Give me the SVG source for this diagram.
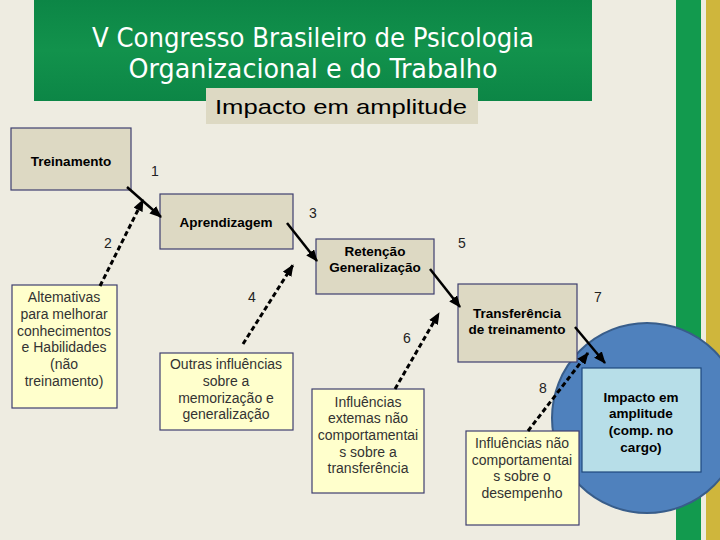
<svg xmlns="http://www.w3.org/2000/svg" width="720" height="540" viewBox="0 0 720 540">
<defs>
<marker id="ah" markerUnits="userSpaceOnUse" markerWidth="12" markerHeight="10" refX="11" refY="5" orient="auto">
<path d="M0,0 L12,5 L0,10 z" fill="#000"/>
</marker>
<linearGradient id="hg" x1="0" y1="0" x2="0" y2="1">
<stop offset="0" stop-color="#0C8646"/>
<stop offset="0.5" stop-color="#12924C"/>
<stop offset="1" stop-color="#0C8646"/>
</linearGradient>
</defs>
<style>
.box{fill:#DDD9C3;stroke:#3F3F6F;stroke-width:1.2}
.note{fill:#FFFFCC;stroke:#3F3F6F;stroke-width:1.2}
.b{font-family:"Liberation Sans",Arial,sans-serif;font-size:13.5px;font-weight:bold;fill:#000;text-anchor:middle}
.r{font-family:"Liberation Sans",Arial,sans-serif;font-size:14px;fill:#333;text-anchor:middle}
.n{font-family:"Liberation Sans",Arial,sans-serif;font-size:14px;fill:#222;text-anchor:middle}
.sol{stroke:#000;stroke-width:2.5;fill:none;marker-end:url(#ah)}
.dsh{stroke:#000;stroke-width:3;fill:none;stroke-dasharray:5 3;marker-end:url(#ah)}
.title{font-family:"Liberation Sans Narrow","DejaVu Sans Condensed","Liberation Sans",sans-serif;font-size:26px;fill:#FFF;text-anchor:middle}
</style>
<rect width="720" height="540" fill="#EEECE1"/>
<rect x="676" y="0" width="25" height="540" fill="#129A4E"/>
<rect x="706" y="0" width="14" height="540" fill="#CFB63C"/>
<g id="header">
<rect x="34" y="0" width="558" height="101" fill="url(#hg)"/>
<text class="title" x="313" y="47" textLength="442" lengthAdjust="spacingAndGlyphs">V Congresso Brasileiro de Psicologia</text>
<text class="title" x="313" y="78" textLength="369" lengthAdjust="spacingAndGlyphs">Organizacional  e do Trabalho</text>
</g>
<g id="subtitle">
<rect x="206" y="88" width="272" height="36" fill="#DDD9C3"/>
<text x="341" y="114" font-family="Liberation Sans, Arial, sans-serif" font-size="21" fill="#000" text-anchor="middle" textLength="252" lengthAdjust="spacingAndGlyphs">Impacto em amplitude</text>
</g>
<g id="impacto">
<circle cx="647" cy="418" r="95" fill="#4F81BD" stroke="#385D8A" stroke-width="2"/>
<rect x="582" y="368" width="119" height="104" fill="#B7DEE8" stroke="#1F497D" stroke-width="1.2"/>
<text class="b" x="641" y="402">Impacto em</text>
<text class="b" x="641" y="418">amplitude</text>
<text class="b" x="641" y="435">(comp. no</text>
<text class="b" x="641" y="452">cargo)</text>
</g>
<g id="treinamento">
<rect class="box" x="11" y="128" width="120" height="62"/>
<text class="b" x="71" y="166">Treinamento</text>
</g>
<g id="aprendizagem">
<rect class="box" x="160" y="194" width="133" height="55"/>
<text class="b" x="226" y="227">Aprendizagem</text>
</g>
<g id="retencao">
<rect class="box" x="316" y="239" width="118" height="55"/>
<text class="b" x="375" y="256">Retenção</text>
<text class="b" x="375" y="272">Generalização</text>
</g>
<g id="transferencia">
<rect class="box" x="458" y="284" width="119" height="78"/>
<text class="b" x="517" y="318">Transferência</text>
<text class="b" x="517" y="334">de treinamento</text>
</g>
<g id="alternativas">
<rect class="note" x="12" y="285" width="105" height="123"/>
<text class="r" x="64" y="302">Altemativas</text>
<text class="r" x="64" y="319">para melhorar</text>
<text class="r" x="64" y="336">conhecimentos</text>
<text class="r" x="64" y="352">e Habilidades</text>
<text class="r" x="64" y="369">(não</text>
<text class="r" x="64" y="386">treinamento)</text>
</g>
<g id="outras">
<rect class="note" x="160" y="353" width="133" height="77"/>
<text class="r" x="226" y="369">Outras influências</text>
<text class="r" x="226" y="386">sobre a</text>
<text class="r" x="226" y="403">memorização e</text>
<text class="r" x="226" y="419">generalização</text>
</g>
<g id="externas">
<rect class="note" x="312" y="389" width="112" height="104"/>
<text class="r" x="368" y="407">Influências</text>
<text class="r" x="368" y="423">extemas não</text>
<text class="r" x="368" y="440">comportamentai</text>
<text class="r" x="368" y="457">s sobre a</text>
<text class="r" x="368" y="473">transferência</text>
</g>
<g id="desempenho">
<rect class="note" x="466" y="431" width="113" height="94"/>
<text class="r" x="522" y="448">Influências não</text>
<text class="r" x="522" y="465">comportamentai</text>
<text class="r" x="522" y="481">s sobre o</text>
<text class="r" x="522" y="498">desempenho</text>
</g>
<g id="connectors">
<line class="sol" x1="127" y1="187" x2="161" y2="217"/>
<line class="dsh" x1="100" y1="286" x2="143" y2="200"/>
<line class="sol" x1="287" y1="223" x2="317" y2="261"/>
<line class="dsh" x1="243" y1="344" x2="293" y2="265"/>
<line class="sol" x1="430" y1="269" x2="460" y2="307"/>
<line class="dsh" x1="395" y1="389" x2="439" y2="313"/>
<line class="sol" x1="575" y1="327" x2="605" y2="363"/>
<line class="dsh" x1="528" y1="431" x2="588" y2="353"/>
</g>
<g id="labels">
<text class="n" x="155" y="176">1</text>
<text class="n" x="108" y="248">2</text>
<text class="n" x="313" y="218">3</text>
<text class="n" x="252" y="302">4</text>
<text class="n" x="462" y="248">5</text>
<text class="n" x="407" y="343">6</text>
<text class="n" x="598" y="302">7</text>
<text class="n" x="543" y="393">8</text>
</g>
</svg>
